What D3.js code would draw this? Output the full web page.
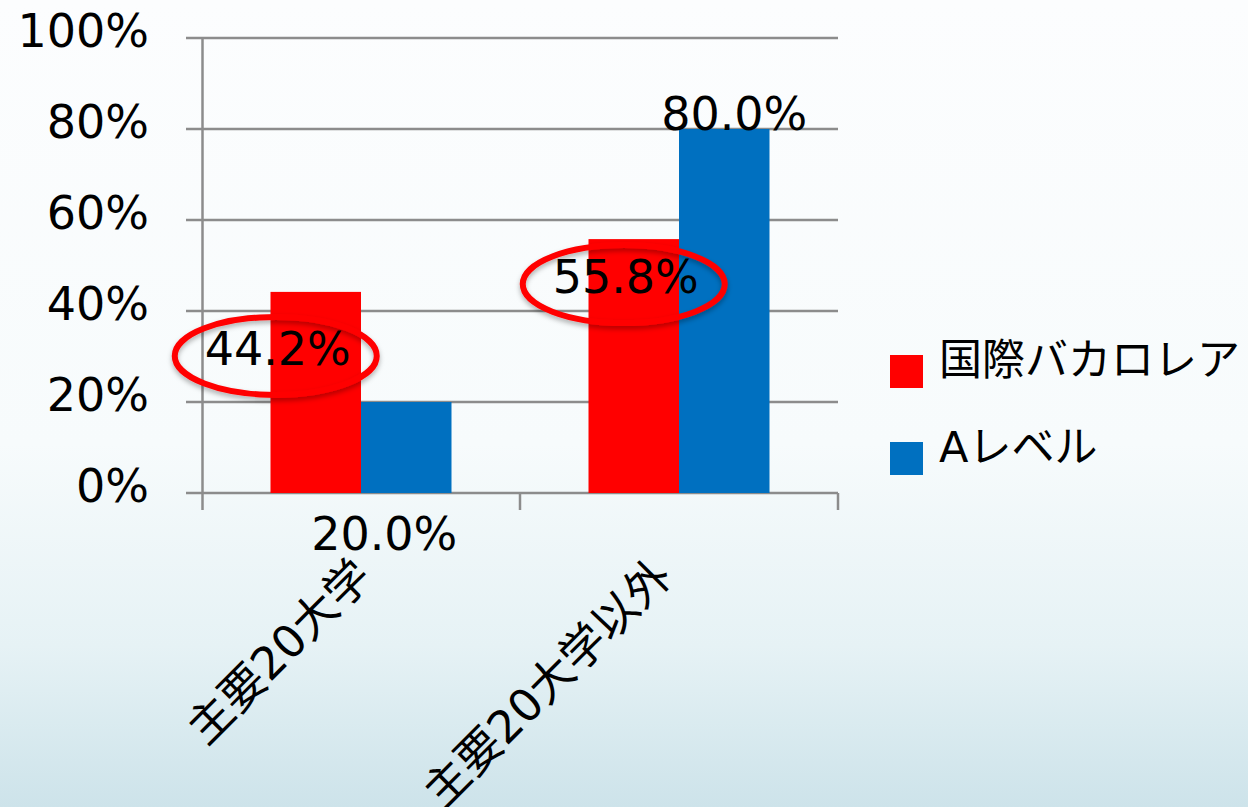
<!DOCTYPE html>
<html>
<head>
<meta charset="utf-8">
<script src="https://cdn.jsdelivr.net/npm/d3@7/dist/d3.min.js"></script>
<style>
  html, body { margin: 0; padding: 0; overflow: hidden; }
  svg { display: block; }
  text { font-family: "DejaVu Sans", "Noto Sans CJK JP", sans-serif; fill: #000; }
</style>
</head>
<body>
<svg id="chart" width="1248" height="807"></svg>
<script>
// ---- data ----
const categories = ["主要20大学", "主要20大学以外"];
const seriesNames = ["国際バカロレア", "Aレベル"];
const ibValues = [0.442, 0.558];
const aLevelValues = [0.200, 0.800];
const yTicks = [0, 0.2, 0.4, 0.6, 0.8, 1.0];
const seriesColors = ["#ff0000", "#0070c0"];

// label placement nudges (pixels, relative to bar top centre)
const ibLabelShift = [[-38, 73], [-8, 54]];
const aLabelShift = [[-22, 148], [10, 1]];
const catLabelShift = [2, -16];

const svg = d3.select("#chart");
const W = 1248, H = 807;

// background gradient
const defs = svg.append("defs");
const grad = defs.append("linearGradient").attr("id", "bg").attr("x1", 0).attr("y1", 0).attr("x2", 0).attr("y2", 1);
grad.append("stop").attr("offset", "0").attr("stop-color", "#fcfdfe");
grad.append("stop").attr("offset", "0.55").attr("stop-color", "#f7fbfc");
grad.append("stop").attr("offset", "0.8").attr("stop-color", "#e6f2f5");
grad.append("stop").attr("offset", "1").attr("stop-color", "#cde3ea");
const sh = defs.append("filter").attr("id", "shadow").attr("x", "-20%").attr("y", "-30%").attr("width", "140%").attr("height", "170%");
sh.append("feDropShadow").attr("dx", 0).attr("dy", 3).attr("stdDeviation", 2.5).attr("flood-color", "#000").attr("flood-opacity", 0.3);

svg.append("rect").attr("width", W).attr("height", H).attr("fill", "url(#bg)");

// scales
const x0 = d3.scaleBand().domain(categories).range([202, 838]).padding(0);
const x1 = d3.scaleBand().domain(seriesNames).range([0, x0.bandwidth()]).paddingInner(0).paddingOuter(0.757);
const y = d3.scaleLinear().domain([0, 1]).range([493, 38]);

const gridColor = "#8c8c8c";

// gridlines
svg.append("g").selectAll("line").data(yTicks).join("line")
  .attr("x1", 186).attr("x2", 838)
  .attr("y1", d => y(d)).attr("y2", d => y(d))
  .attr("stroke", gridColor).attr("stroke-width", 2.5);

// y axis line
svg.append("line").attr("x1", 202.5).attr("x2", 202.5).attr("y1", y(1)).attr("y2", 510)
  .attr("stroke", gridColor).attr("stroke-width", 2.5);

// category ticks
const catEdges = categories.map(c => x0(c)).concat([x0(categories[categories.length - 1]) + x0.bandwidth()]);
svg.append("g").selectAll("line").data(catEdges.slice(1)).join("line")
  .attr("x1", d => d).attr("x2", d => d).attr("y1", y(0)).attr("y2", 510)
  .attr("stroke", gridColor).attr("stroke-width", 2.5);

// y tick labels
svg.append("g").selectAll("text").data(yTicks).join("text")
  .attr("x", 149).attr("y", d => y(d) + 9)
  .attr("text-anchor", "end").attr("font-size", 46)
  .text(d => d3.format(".0%")(d));

// bars
const seriesData = [ibValues, aLevelValues];
const barsG = svg.append("g");
seriesNames.forEach((s, si) => {
  barsG.selectAll(null).data(categories).join("rect")
    .attr("x", c => x0(c) + x1(s))
    .attr("width", x1.bandwidth())
    .attr("y", (c, i) => y(seriesData[si][i]))
    .attr("height", (c, i) => y(0) - y(seriesData[si][i]))
    .attr("fill", seriesColors[si]);
});

// category labels
svg.append("g").selectAll("text").data(categories).join("text")
  .attr("transform", (c, i) => `translate(${x0(c) + x0.bandwidth() / 2 + catLabelShift[i]},568) rotate(-45)`)
  .attr("text-anchor", "end").attr("dominant-baseline", "central")
  .attr("font-size", 45)
  .text(c => c);

// ellipses around IB labels
const fmt = d3.format(".1%");
const ellG = svg.append("g");
categories.forEach((c, i) => {
  const cx = x0(c) + x1(seriesNames[0]) + x1.bandwidth() / 2 + ibLabelShift[i][0];
  const by = y(ibValues[i]) + ibLabelShift[i][1];
  ellG.append("ellipse").attr("cx", cx - 2).attr("cy", by - 9).attr("rx", 101).attr("ry", 39)
    .attr("fill", "none").attr("stroke", "#ff0000").attr("stroke-width", 6).attr("filter", "url(#shadow)");
});

// data labels
const lblG = svg.append("g");
categories.forEach((c, i) => {
  const cx = x0(c) + x1(seriesNames[0]) + x1.bandwidth() / 2 + ibLabelShift[i][0];
  lblG.append("text").attr("x", cx).attr("y", y(ibValues[i]) + ibLabelShift[i][1])
    .attr("text-anchor", "middle").attr("font-size", 46).text(fmt(ibValues[i]));
  const ax = x0(c) + x1(seriesNames[1]) + x1.bandwidth() / 2 + aLabelShift[i][0];
  lblG.append("text").attr("x", ax).attr("y", y(aLevelValues[i]) + aLabelShift[i][1])
    .attr("text-anchor", "middle").attr("font-size", 46).text(fmt(aLevelValues[i]));
});

// legend
const legend = svg.append("g");
const legY = [355, 442];
seriesNames.forEach((s, i) => {
  legend.append("rect").attr("x", 890).attr("y", legY[i]).attr("width", 33).attr("height", 33).attr("fill", seriesColors[i]);
  legend.append("text").attr("x", 939).attr("y", legY[i] + 20).attr("font-size", 43)
    .text(s);
});
</script>
</body>
</html>
